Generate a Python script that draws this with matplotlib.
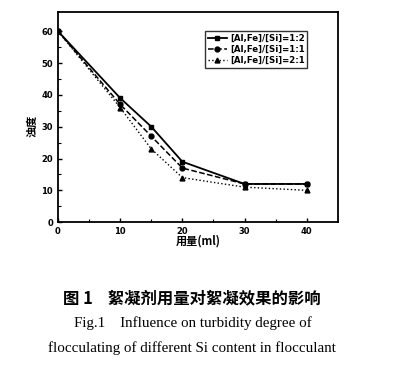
import matplotlib.pyplot as plt
import numpy as np

plt.rcParams['font.family'] = ['DejaVu Sans', 'Noto Sans CJK SC']

# dosage (ml) and turbidity values
dose = [0, 10, 15, 20, 30, 40]
y_12 = [60, 39, 30, 19, 12, 12]
y_11 = [60, 37, 27, 17, 12, 12]
y_21 = [60, 36, 23, 14, 11, 10]
labels = ['[Al,Fe]/[Si]=1:2', '[Al,Fe]/[Si]=1:1', '[Al,Fe]/[Si]=2:1']
xticks = [0, 10, 20, 30, 40]
yticks = [0, 10, 20, 30, 40, 50, 60]

f = plt.figure(figsize=(3.97, 3.66), dpi=100)
ax = f.add_axes([0.146, 0.393, 0.705, 0.574])

ax.plot(dose, y_12, color='black', linestyle='-', linewidth=1.3, marker='s', markersize=3.5, label=labels[0])
ax.plot(dose, y_11, color='black', linestyle='--', linewidth=1.1, marker='o', markersize=3.5, label=labels[1])
ax.plot(dose, y_21, color='black', linestyle=':', linewidth=1.0, marker='^', markersize=3.5, label=labels[2])

ax.set_xlim(0, 45)
ax.set_ylim(0, 66)
ax.set_xticks(xticks)
ax.set_yticks(yticks)
ax.set_xticks([5, 15, 25, 35], minor=True)
ax.set_yticks([5, 15, 25, 35, 45, 55], minor=True)
ax.tick_params(direction='in', length=3, width=1, labelsize=6)
ax.tick_params(which='minor', direction='in', length=2, width=0.8)
for lab in ax.get_xticklabels() + ax.get_yticklabels():
    lab.set_fontweight('bold')
for s in ax.spines.values():
    s.set_linewidth(1.3)

ax.set_xlabel('用量(ml)', fontsize=8, fontweight='bold',
              family=['Noto Sans CJK SC', 'DejaVu Sans'], labelpad=-1)
ax.set_ylabel('浊度', fontsize=8, fontweight='bold',
              family=['Noto Sans CJK SC', 'DejaVu Sans'])
ax.yaxis.set_label_coords(-0.07, 0.46)

leg = ax.legend(loc='upper left', bbox_to_anchor=(0.51, 0.93), fontsize=6.2,
                frameon=True, fancybox=False, edgecolor='black', handlelength=2.2,
                borderpad=0.3, labelspacing=0.25, handletextpad=0.4)
leg.get_frame().set_linewidth(1.0)
for t in leg.get_texts():
    t.set_fontweight('bold')

f.text(0.483, 0.185, '图 1    絮凝剂用量对絮凝效果的影响', ha='center', va='center',
       fontsize=11.8, fontweight='bold', family=['Noto Sans CJK SC', 'DejaVu Sans'])
f.text(0.486, 0.117, 'Fig.1    Influence on turbidity degree of', ha='center', va='center',
       fontsize=10.8, family=['Liberation Serif', 'DejaVu Serif'])
f.text(0.483, 0.05, 'flocculating of different Si content in flocculant', ha='center', va='center',
       fontsize=10.8, family=['Liberation Serif', 'DejaVu Serif'])

f.savefig('out.png', dpi=100)
